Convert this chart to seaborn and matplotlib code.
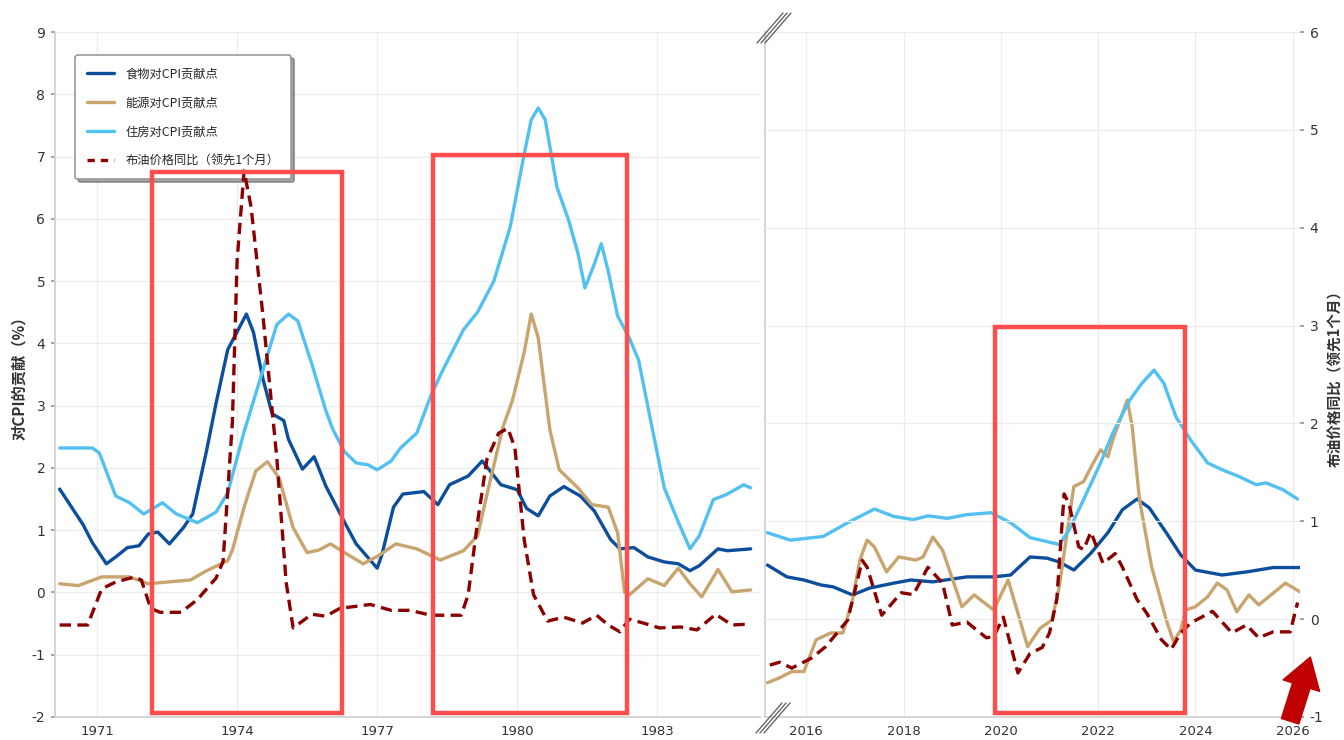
import numpy as np
import pandas as pd
import matplotlib
matplotlib.use("Agg")
import matplotlib.pyplot as plt
from matplotlib.patches import Rectangle
from matplotlib.lines import Line2D
import seaborn as sns

sns.set_theme(style="whitegrid")
plt.rcParams['font.family'] = ['DejaVu Sans', 'Noto Sans CJK SC']
plt.rcParams['axes.unicode_minus'] = False

CJK = ['Noto Sans CJK SC', 'DejaVu Sans']

# ===============================
# 数据：1970-1985
# ===============================
food_l_t = [1970.2, 1970.7, 1970.9, 1971.2, 1971.4, 1971.65, 1971.9, 1972.1, 1972.3, 1972.55,
            1972.85, 1973.05, 1973.35, 1973.55, 1973.8, 1974.2, 1974.35, 1974.55, 1974.75, 1975.0,
            1975.1, 1975.4, 1975.65, 1975.9, 1976.3, 1976.55, 1977.0, 1977.1, 1977.35, 1977.55,
            1978.0, 1978.3, 1978.55, 1978.95, 1979.25, 1979.4, 1979.65, 1980.0, 1980.2, 1980.45,
            1980.7, 1981.0, 1981.35, 1981.65, 1982.0, 1982.2, 1982.5, 1982.8, 1983.15, 1983.45,
            1983.7, 1983.9, 1984.3, 1984.5, 1985.0]
food_l_v = [1.66, 1.09, 0.80, 0.46, 0.57, 0.72, 0.75, 0.94, 0.97, 0.78,
            1.04, 1.26, 2.29, 3.04, 3.90, 4.47, 4.18, 3.44, 2.87, 2.76,
            2.46, 1.98, 2.18, 1.71, 1.13, 0.78, 0.39, 0.60, 1.37, 1.58,
            1.62, 1.41, 1.73, 1.87, 2.11, 1.97, 1.73, 1.65, 1.35, 1.23,
            1.55, 1.70, 1.55, 1.31, 0.85, 0.70, 0.72, 0.57, 0.49, 0.46,
            0.35, 0.43, 0.70, 0.67, 0.70]

energy_l_t = [1970.2, 1970.6, 1971.1, 1971.7, 1972.1, 1972.55, 1973.0, 1973.35, 1973.8, 1973.9,
              1974.15, 1974.4, 1974.65, 1974.9, 1975.2, 1975.5, 1975.75, 1976.0, 1976.3, 1976.7,
              1977.05, 1977.4, 1977.85, 1978.35, 1978.85, 1979.15, 1979.4, 1979.7, 1979.9, 1980.15,
              1980.3, 1980.45, 1980.7, 1980.9, 1981.3, 1981.6, 1981.95, 1982.15, 1982.3, 1982.4,
              1982.8, 1983.15, 1983.45, 1983.7, 1983.95, 1984.3, 1984.6, 1985.0]
energy_l_v = [0.14, 0.11, 0.25, 0.25, 0.14, 0.17, 0.20, 0.35, 0.51, 0.68,
              1.37, 1.95, 2.10, 1.84, 1.04, 0.64, 0.68, 0.78, 0.64, 0.46,
              0.60, 0.78, 0.70, 0.52, 0.67, 0.91, 1.73, 2.67, 3.09, 3.86,
              4.47, 4.09, 2.61, 1.97, 1.68, 1.41, 1.37, 0.96, 0.00, -0.04,
              0.22, 0.11, 0.39, 0.14, -0.07, 0.37, 0.01, 0.04]

housing_l_t = [1970.2, 1970.9, 1971.05, 1971.4, 1971.7, 1972.0, 1972.4, 1972.7, 1973.15, 1973.55,
               1973.8, 1974.15, 1974.5, 1974.85, 1975.1, 1975.3, 1975.6, 1975.9, 1976.05, 1976.3,
               1976.55, 1976.8, 1977.0, 1977.3, 1977.5, 1977.85, 1978.15, 1978.4, 1978.85, 1979.15,
               1979.5, 1979.85, 1980.15, 1980.3, 1980.45, 1980.6, 1980.85, 1981.1, 1981.3, 1981.45,
               1981.65, 1981.8, 1981.95, 1982.15, 1982.4, 1982.6, 1982.85, 1983.15, 1983.45, 1983.7,
               1983.9, 1984.2, 1984.5, 1984.85, 1985.0]
housing_l_v = [2.32, 2.32, 2.24, 1.55, 1.44, 1.26, 1.44, 1.26, 1.12, 1.29,
               1.60, 2.58, 3.44, 4.30, 4.47, 4.36, 3.67, 2.92, 2.62, 2.26,
               2.08, 2.05, 1.97, 2.11, 2.32, 2.56, 3.16, 3.56, 4.22, 4.50,
               5.00, 5.87, 7.04, 7.59, 7.78, 7.59, 6.51, 5.98, 5.45, 4.89,
               5.27, 5.60, 5.16, 4.44, 4.09, 3.73, 2.79, 1.68, 1.13, 0.70,
               0.91, 1.49, 1.58, 1.73, 1.68]

oil_l_t = [1970.2, 1970.8, 1971.1, 1971.4, 1971.8, 1971.95, 1972.15, 1972.35, 1972.8, 1973.15,
           1973.55, 1973.7, 1973.9, 1974.0, 1974.15, 1974.3, 1974.55, 1974.85, 1975.05, 1975.2,
           1975.6, 1975.9, 1976.2, 1976.85, 1977.3, 1977.7, 1978.15, 1978.8, 1978.95, 1979.15,
           1979.35, 1979.6, 1979.8, 1979.95, 1980.15, 1980.35, 1980.65, 1981.0, 1981.4, 1981.7,
           1981.95, 1982.2, 1982.4, 1982.7, 1983.05, 1983.5, 1983.85, 1984.25, 1984.6, 1985.0]
oil_l_v = [-0.06, -0.06, 0.31, 0.38, 0.43, 0.40, 0.11, 0.07, 0.07, 0.20,
           0.42, 0.59, 2.02, 3.66, 4.58, 4.21, 3.12, 1.65, 0.38, -0.09,
           0.05, 0.03, 0.11, 0.15, 0.09, 0.09, 0.04, 0.04, 0.25, 0.99,
           1.63, 1.90, 1.95, 1.75, 0.81, 0.25, -0.02, 0.02, -0.04, 0.04,
           -0.06, -0.13, 0.00, -0.04, -0.09, -0.08, -0.11, 0.05, -0.06, -0.05]

# ===============================
# 数据：2015-2026
# ===============================
food_r_t = [2015.2, 2015.6, 2015.95, 2016.3, 2016.55, 2016.95, 2017.3, 2017.8, 2018.15, 2018.6,
            2019.3, 2019.85, 2020.2, 2020.6, 2020.95, 2021.2, 2021.5, 2021.85, 2022.2, 2022.5,
            2022.8, 2023.05, 2023.4, 2023.7, 2024.0, 2024.55, 2025.05, 2025.6, 2026.15]
food_r_v = [0.44, 0.25, 0.20, 0.12, 0.09, -0.04, 0.07, 0.15, 0.20, 0.17,
            0.25, 0.25, 0.28, 0.57, 0.55, 0.49, 0.36, 0.63, 0.96, 1.33,
            1.50, 1.36, 0.96, 0.60, 0.36, 0.28, 0.33, 0.40, 0.40]

energy_r_t = [2015.2, 2015.45, 2015.7, 2015.95, 2016.2, 2016.5, 2016.75, 2016.95, 2017.1, 2017.25,
              2017.4, 2017.65, 2017.9, 2018.25, 2018.4, 2018.6, 2018.8, 2019.2, 2019.45, 2019.85,
              2020.15, 2020.55, 2020.8, 2021.05, 2021.2, 2021.4, 2021.5, 2021.7, 2021.9, 2022.05,
              2022.2, 2022.3, 2022.5, 2022.6, 2022.7, 2022.85, 2023.1, 2023.4, 2023.55, 2023.7,
              2023.8, 2024.0, 2024.25, 2024.45, 2024.65, 2024.85, 2025.1, 2025.3, 2025.6, 2025.85,
              2026.15]
energy_r_v = [-1.45, -1.37, -1.27, -1.27, -0.76, -0.65, -0.65, -0.12, 0.52, 0.84,
              0.73, 0.33, 0.57, 0.52, 0.57, 0.89, 0.68, -0.23, -0.04, -0.28,
              0.20, -0.87, -0.58, -0.44, 0.09, 1.17, 1.70, 1.78, 2.08, 2.29,
              2.18, 2.45, 2.88, 3.09, 2.66, 1.49, 0.41, -0.44, -0.79, -0.60,
              -0.28, -0.23, -0.07, 0.15, 0.04, -0.31, -0.04, -0.20, -0.01, 0.15,
              0.01]

housing_r_t = [2015.2, 2015.67, 2016.35, 2016.85, 2017.4, 2017.8, 2018.2, 2018.5, 2018.9, 2019.3,
               2019.8, 2020.2, 2020.6, 2021.2, 2021.4, 2021.7, 2022.05, 2022.3, 2022.65, 2022.9,
               2023.15, 2023.35, 2023.6, 2023.9, 2024.25, 2024.55, 2024.9, 2025.25, 2025.45, 2025.8,
               2026.1]
housing_r_v = [0.96, 0.84, 0.90, 1.12, 1.34, 1.22, 1.17, 1.23, 1.19, 1.25,
               1.28, 1.12, 0.88, 0.77, 1.00, 1.49, 2.08, 2.56, 3.09, 3.36,
               3.57, 3.36, 2.82, 2.45, 2.08, 1.97, 1.86, 1.73, 1.76, 1.65,
               1.50]

oil_r_t = [2015.25, 2015.45, 2015.7, 2016.1, 2016.4, 2016.85, 2017.15, 2017.25, 2017.55, 2017.95,
           2018.2, 2018.5, 2018.8, 2019.0, 2019.3, 2019.7, 2019.85, 2020.05, 2020.35, 2020.6,
           2020.85, 2021.0, 2021.15, 2021.3, 2021.4, 2021.6, 2021.7, 2021.85, 2022.1, 2022.35,
           2022.5, 2022.8, 2023.0, 2023.3, 2023.5, 2023.7, 2023.9, 2024.35, 2024.75, 2025.05,
           2025.3, 2025.6, 2025.95, 2026.1]
oil_r_v = [-0.47, -0.44, -0.50, -0.40, -0.28, -0.01, 0.60, 0.53, 0.04, 0.27,
           0.25, 0.53, 0.37, -0.06, -0.03, -0.19, -0.18, 0.02, -0.55, -0.35,
           -0.29, -0.14, 0.20, 1.28, 1.18, 0.74, 0.71, 0.89, 0.57, 0.67,
           0.53, 0.20, 0.06, -0.21, -0.31, -0.14, -0.04, 0.08, -0.14, -0.06,
           -0.19, -0.13, -0.13, 0.17]

labels = ["食物对CPI贡献点", "能源对CPI贡献点", "住房对CPI贡献点", "布油价格同比（领先1个月）"]
colors = ["#0b4f9c", "#c8a46e", "#52c0f0", "#8b0000"]

left_xticks = [1971, 1974, 1977, 1980, 1983]
right_xticks = [2016, 2018, 2020, 2022, 2024, 2026]
left_yticks = list(range(-2, 10))
right_yticks = list(range(-1, 7))

# 红框 (x0, x1, y0, y1)
box_left = [(1972.18, 1976.25, -1.93, 6.75), (1978.2, 1982.36, -1.93, 7.03)]
box_right = (2019.88, 2023.78, -0.96, 2.99)

# ===============================
# 画图
# ===============================
fig = plt.figure(figsize=(13.44, 7.4), dpi=100)
W, H = 1344, 740
ax1 = fig.add_axes([55 / W, 23 / H, 705 / W, 685 / H])
ax2 = fig.add_axes([765 / W, 23 / H, 535 / W, 685 / H])
ax1r = ax1.twinx()
ax2r = ax2.twinx()

lw = 2.4
for ax, axr, data in [
    (ax1, ax1r, [(food_l_t, food_l_v), (energy_l_t, energy_l_v), (housing_l_t, housing_l_v), (oil_l_t, oil_l_v)]),
    (ax2, ax2r, [(food_r_t, food_r_v), (energy_r_t, energy_r_v), (housing_r_t, housing_r_v), (oil_r_t, oil_r_v)]),
]:
    for i in range(3):
        sns.lineplot(x=data[i][0], y=data[i][1], ax=ax, color=colors[i], linewidth=lw, label=labels[i])
    sns.lineplot(x=data[3][0], y=data[3][1], ax=axr, color=colors[3], linewidth=lw,
                 linestyle=(0, (3.4, 1.9)), label=labels[3])
    if ax.get_legend():
        ax.get_legend().remove()
    if axr.get_legend():
        axr.get_legend().remove()

# 坐标轴
ax1.set_xlim(1970.1, 1985.2)
ax2.set_xlim(2015.15, 2026.15)
for ax in (ax1, ax2):
    ax.set_ylim(-2, 9)
for axr in (ax1r, ax2r):
    axr.set_ylim(-1, 6)

ax1.set_xticks(left_xticks)
ax2.set_xticks(right_xticks)
ax1.set_yticks(left_yticks)
ax1.set_yticklabels([str(v) for v in left_yticks])
ax2r.set_yticks(right_yticks)
ax2r.set_yticklabels([str(v) for v in right_yticks])

grid_kw = dict(color="#ececec", linewidth=0.9)
ax1.grid(True, **grid_kw)
ax2.grid(True, axis="x", **grid_kw)
ax2.grid(False, axis="y")
ax2r.grid(True, axis="y", **grid_kw)
ax1r.grid(False)
ax2r.set_axisbelow(True)

ax2.set_yticks([])
ax1r.set_yticks([])

for ax in (ax1, ax2, ax1r, ax2r):
    ax.set_facecolor("none")
    for s in ax.spines.values():
        s.set_visible(False)
    ax.set_xlabel("")
    ax.set_ylabel("")
ax1.set_facecolor("white")
ax2.set_facecolor("white")
for ax in (ax1, ax2):
    ax.spines["bottom"].set_visible(True)
    ax.spines["bottom"].set_color("#d0d0d0")
    ax.spines["left"].set_visible(True)
    ax.spines["left"].set_color("#d0d0d0")
    ax.tick_params(axis="x", length=0, pad=6, labelsize=9.5, labelcolor="#333333")
ax1.tick_params(axis="y", length=3, color="#999999", pad=4, labelsize=10, labelcolor="#333333")
ax2r.tick_params(axis="y", length=3, color="#999999", pad=4, labelsize=10, labelcolor="#333333")

ax1.set_ylabel("对CPI的贡献（%）", family=CJK, fontsize=11, fontweight="bold", color="#333333", labelpad=3)
ax2r.set_ylabel("布油价格同比（领先1个月）", family=CJK, fontsize=10.5, fontweight="bold",
                color="#333333", labelpad=3)

# 红框
for (x0, x1, y0, y1) in box_left:
    ax1r.add_patch(Rectangle((x0, y0), x1 - x0, y1 - y0, transform=ax1.transData, fill=False,
                             edgecolor="#ff4d4d", linewidth=3.2, zorder=10))
x0, x1, y0, y1 = box_right
ax2r.add_patch(Rectangle((x0, y0), x1 - x0, y1 - y0, fill=False,
                         edgecolor="#ff4d4d", linewidth=3.2, zorder=10))

# 图例
handles = [Line2D([0], [0], color=colors[i], linewidth=lw) for i in range(3)]
handles.append(Line2D([0], [0], color=colors[3], linewidth=lw, linestyle=(0, (2.2, 1.8))))
leg = ax1.legend(handles, labels, loc="upper left", bbox_to_anchor=(0.02, 0.975),
                 frameon=True, shadow=True, fancybox=True, framealpha=1,
                 edgecolor="#999999", prop={"family": CJK, "size": 8.8},
                 labelspacing=1.3, handlelength=2.2, borderpad=1.0, handletextpad=0.9)
leg.get_frame().set_linewidth(1.2)

# 箭头
ax2r.annotate("", xy=(2026.38, -0.36), xytext=(2025.93, -1.07),
              arrowprops=dict(arrowstyle="simple,head_length=0.9,head_width=1.15,tail_width=0.55",
                              color="#c00000", mutation_scale=24),
              annotation_clip=False, clip_on=False)

# 断轴标记
for cx, cy in [(774, 28), (773, 718)]:
    for off in (-4, 0, 4):
        fig.add_artist(Line2D([(cx - 13 + off) / W, (cx + 13 + off) / W],
                              [(H - (cy + 15)) / H, (H - (cy - 15)) / H],
                              transform=fig.transFigure, color="#666666", linewidth=1.0))

fig.savefig("out.png", dpi=100, facecolor="white")
